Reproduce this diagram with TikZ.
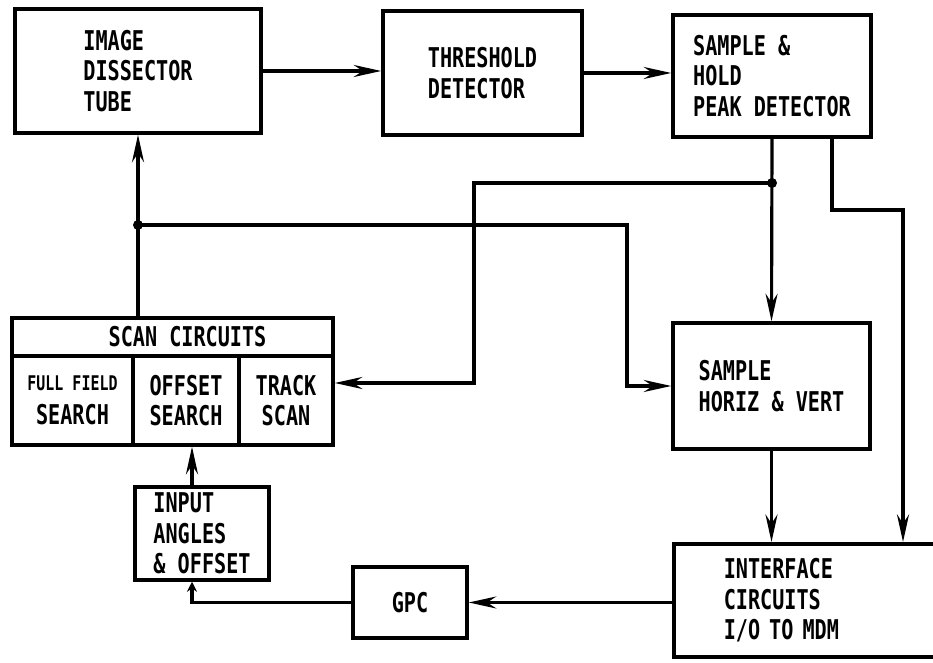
\documentclass[tikz,border=0pt]{standalone}
\usepackage{fontspec}
\usepackage{tikz}
\usetikzlibrary{arrows.meta}
\newfontfamily\lettering[FakeStretch=0.74]{DejaVu Sans Mono}

\begin{document}
\begin{tikzpicture}[>={Stealth[length=5.5mm,width=2.4mm,inset=1.8mm]},line cap=round,
  font=\lettering\bfseries\fontsize{15.5}{17.5}\selectfont,
  blk/.style={draw,line width=2pt,align=left,inner sep=0pt},
  wire/.style={line width=1.8pt}]
\useasboundingbox (0,0) rectangle (18.66,13.26);
% top row
\node[blk,minimum width=4.92cm,minimum height=2.48cm] (tube) at (2.76,11.84) {IMAGE\\DISSECTOR\\TUBE};
\node[blk,minimum width=3.98cm,minimum height=2.48cm] (thresh) at (9.65,11.80) {THRESHOLD\\DETECTOR};
\node[blk,minimum width=3.96cm,minimum height=2.44cm] (hold) at (15.44,11.74) {SAMPLE \&\\HOLD\\PEAK DETECTOR};
% scan circuits
\node[blk,minimum width=6.42cm,minimum height=0.76cm,align=center] (scan) at (3.45,6.52) {\hspace*{0.6cm}SCAN CIRCUITS};
\node[blk,minimum width=2.42cm,minimum height=1.78cm,align=center] (full) at (1.45,5.25) {{\fontsize{11.5}{13}\selectfont FULL FIELD}\\[2pt]SEARCH};
\node[blk,minimum width=2.12cm,minimum height=1.78cm,align=center] (offs) at (3.72,5.25) {OFFSET\\SEARCH};
\node[blk,minimum width=1.88cm,minimum height=1.78cm,align=center] (track) at (5.72,5.25) {TRACK\\SCAN};
\node[blk,minimum width=2.68cm,minimum height=1.86cm] (input) at (4.04,2.59) {INPUT\\ANGLES\\\& OFFSET};
\node[blk,minimum width=2.28cm,minimum height=1.42cm] (gpc) at (8.20,1.21) {GPC};
% right column
\node[blk,minimum width=3.94cm,minimum height=2.52cm] (shv) at (15.43,5.54) {SAMPLE\\HORIZ \& VERT};
\node[blk,anchor=north west,minimum height=2.26cm,text width=5cm,inner xsep=1cm] (iface) at (13.44,2.42) {INTERFACE\\CIRCUITS\\I/O TO MDM};
% junctions
\coordinate (dotL) at (2.76,8.76);
\coordinate (dotR) at (15.44,9.60);
\coordinate (fbR) at (9.48,9.60);
\coordinate (fbL) at (12.54,8.76);
\coordinate (bendR) at (18.06,9.06);
% signal path
\draw[wire,->] (tube.east) -- (tube.east -| thresh.west);
\draw[wire,->] (thresh.east) -- (thresh.east -| hold.west);
\draw[wire,->] (hold.south) -- (shv.north);
\draw[wire,->] ([xshift=1.2cm]hold.south) |- (bendR) -- (bendR |- iface.north);
\draw[wire,->] (shv.south) -- (shv.south |- iface.north);
\draw[wire,->] (iface.west |- gpc.east) -- (gpc.east);
\draw[wire,->,>={Stealth[length=2mm,width=2mm]}] (gpc.west) -| ([xshift=-0.2cm]input.south);
\draw[wire,->] ([xshift=-0.2cm]input.north) -- ([xshift=-0.2cm]input.north |- offs.south);
% scan drive and feedback
\draw[wire,->] (tube.south |- scan.north) -- (tube.south);
\draw[wire,->] (dotR) -- (fbR) |- ([yshift=0.35cm]track.east);
\draw[wire,->] (dotL) -- (fbL) |- (shv.west);
\fill (dotL) circle (0.1);
\fill (dotR) circle (0.1);
\end{tikzpicture}
\end{document}
